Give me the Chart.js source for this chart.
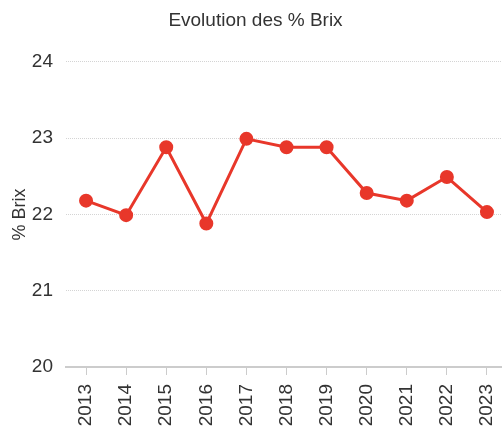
<!DOCTYPE html>
<html>
<head>
<meta charset="utf-8">
<script src="https://cdn.jsdelivr.net/npm/chart.js@4"></script>
<style>
  html, body { margin: 0; padding: 0; background: #fff; overflow: hidden; }
  #wrap { width: 502px; height: 430px; }
</style>
</head>
<body>
<div id="wrap"><canvas id="brixChart"></canvas></div>
<script>
// Chart data
const years = [2013, 2014, 2015, 2016, 2017, 2018, 2019, 2020, 2021, 2022, 2023];
const brixValues = [22.18, 21.99, 22.88, 21.88, 22.99, 22.88, 22.88, 22.28, 22.18, 22.49, 22.03];
const yTicks = [20, 21, 22, 23, 24];

const textColor = '#333';
const lineColor = '#e8372a';
const fontFamily = 'Liberation Sans, Arial, sans-serif';

const ctx = document.getElementById('brixChart').getContext('2d');
const brixChart = new Chart(ctx, {
    type: 'line',
    data: {
        datasets: [{
            label: '% Brix',
            data: years.map((y, i) => ({ x: y, y: brixValues[i] })),
            borderColor: lineColor,
            backgroundColor: lineColor,
            borderWidth: 3,
            pointRadius: 5.5,
            pointHoverRadius: 5.5,
            tension: 0,
            clip: false
        }]
    },
    options: {
        responsive: true,
        maintainAspectRatio: false,
        animation: false,
        layout: { autoPadding: false, padding: { left: 9, right: 0, top: 0, bottom: 0 } },
        plugins: {
            legend: { display: false },
            tooltip: { enabled: false },
            title: {
                display: true,
                text: 'Evolution des % Brix',
                color: textColor,
                font: { family: fontFamily, size: 19, weight: 'normal' },
                padding: { top: 9, bottom: 30 }
            }
        },
        scales: {
            x: {
                type: 'linear',
                min: 2012.5,
                max: 2023.375,
                afterBuildTicks: axis => { axis.ticks = years.map(v => ({ value: v })); },
                // keep the plot running to the right edge, like the original
                afterFit: axis => {
                    axis.paddingLeft = 0;
                    axis.paddingRight = 0;
                    axis.height = 63;
                },
                ticks: {
                    color: textColor,
                    font: { family: fontFamily, size: 19 },
                    minRotation: 90,
                    maxRotation: 90,
                    padding: 9,
                    callback: v => String(v)
                },
                grid: {
                    drawOnChartArea: false,
                    drawTicks: true,
                    tickLength: 8,
                    color: '#ccc',
                    lineWidth: 1
                },
                border: { display: true, color: '#ccc', width: 2 }
            },
            y: {
                min: 20,
                max: 24,
                afterBuildTicks: axis => { axis.ticks = yTicks.map(v => ({ value: v })); },
                afterFit: axis => {
                    axis.width = 57;
                    axis.paddingTop = 0;
                    axis.paddingBottom = 0;
                },
                title: {
                    display: true,
                    text: '% Brix',
                    color: textColor,
                    font: { family: fontFamily, size: 18 },
                    padding: { top: 0, bottom: 2 }
                },
                ticks: {
                    color: textColor,
                    font: { family: fontFamily, size: 19 },
                    padding: 13
                },
                grid: {
                    color: '#d4d4d4',
                    lineWidth: 1,
                    drawTicks: false
                },
                border: { display: false, dash: [1, 1] }
            }
        }
    }
});
</script>
</body>
</html>
